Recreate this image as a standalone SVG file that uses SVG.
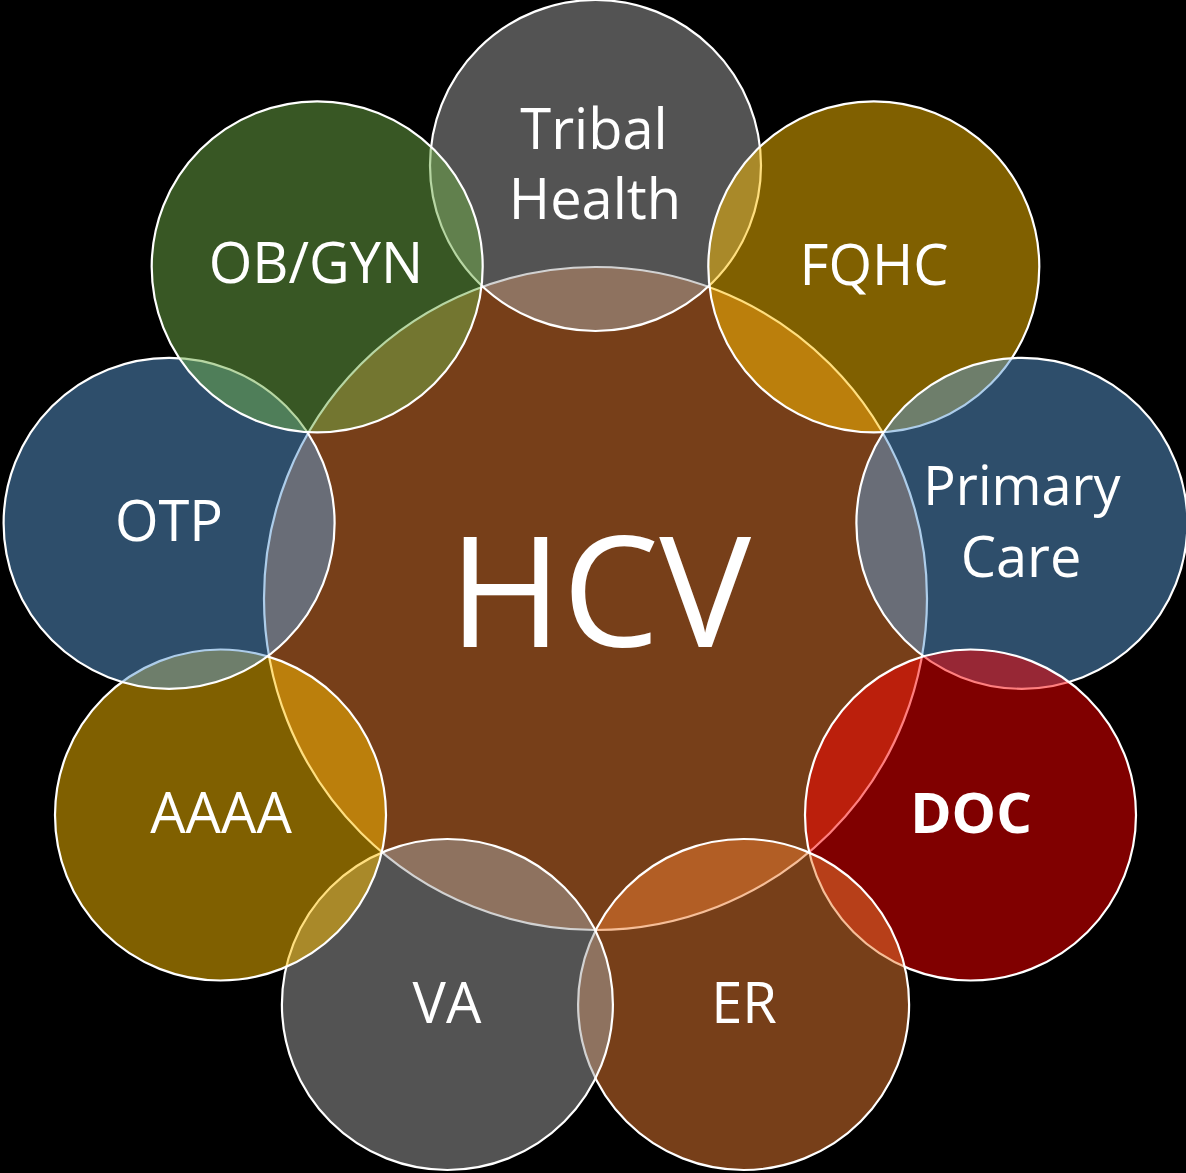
<svg xmlns="http://www.w3.org/2000/svg" width="1186" height="1173" viewBox="0 0 1186 1173">
  <style>
    .c { stroke: #FFFFFF; stroke-width: 2.2; fill-opacity: 0.5; }
    .t { font-family: "Open Sans", "Liberation Sans", sans-serif; fill: #FFFFFF; text-anchor: middle; font-size: 56px; }
    .s { font-size: 54px; }
    .b { font-weight: bold; }
    .big { font-size: 154px; }
    .orange { fill: #ED7D31; }
    .gray { fill: #A5A5A5; }
    .gold { fill: #FFC000; }
    .blue { fill: #5B9BD5; }
    .red { fill: #FF0000; }
    .green { fill: #70AD47; }
  </style>
  <rect x="0" y="0" width="1186" height="1173" fill="#000000"/>
  <g id="hcv">
    <circle class="c orange" cx="595.5" cy="598.5" r="331.5"/>
    <text class="t big" x="600" y="647">HCV</text>
  </g>
  <g id="tribal-health">
    <circle class="c gray" cx="595.5" cy="165.5" r="165.5"/>
    <text class="t" x="594" y="149">Tribal</text>
    <text class="t" x="595" y="219">Health</text>
  </g>
  <g id="fqhc">
    <circle class="c gold" cx="873.8" cy="266.8" r="165.5"/>
    <text class="t" x="874" y="285">FQHC</text>
  </g>
  <g id="primary-care">
    <circle class="c blue" cx="1021.9" cy="523.3" r="165.5"/>
    <text class="t s" x="1022" y="505">Primary</text>
    <text class="t" x="1021" y="577">Care</text>
  </g>
  <g id="doc">
    <circle class="c red" cx="970.5" cy="815" r="165.5"/>
    <text class="t b" x="971" y="833">DOC</text>
  </g>
  <g id="er">
    <circle class="c orange" cx="743.6" cy="1004.5" r="165.5"/>
    <text class="t" x="744" y="1023">ER</text>
  </g>
  <g id="va">
    <circle class="c gray" cx="447.4" cy="1004.5" r="165.5"/>
    <text class="t" x="447" y="1023">VA</text>
  </g>
  <g id="aaaa">
    <circle class="c gold" cx="220.5" cy="815" r="165.5"/>
    <text class="t" x="221" y="833">AAAA</text>
  </g>
  <g id="otp">
    <circle class="c blue" cx="169.1" cy="523.3" r="165.5"/>
    <text class="t" x="169" y="541">OTP</text>
  </g>
  <g id="ob-gyn">
    <circle class="c green" cx="317.2" cy="266.8" r="165.5"/>
    <text class="t" x="316" y="283">OB/GYN</text>
  </g>
  <g id="connectors"/>
</svg>
